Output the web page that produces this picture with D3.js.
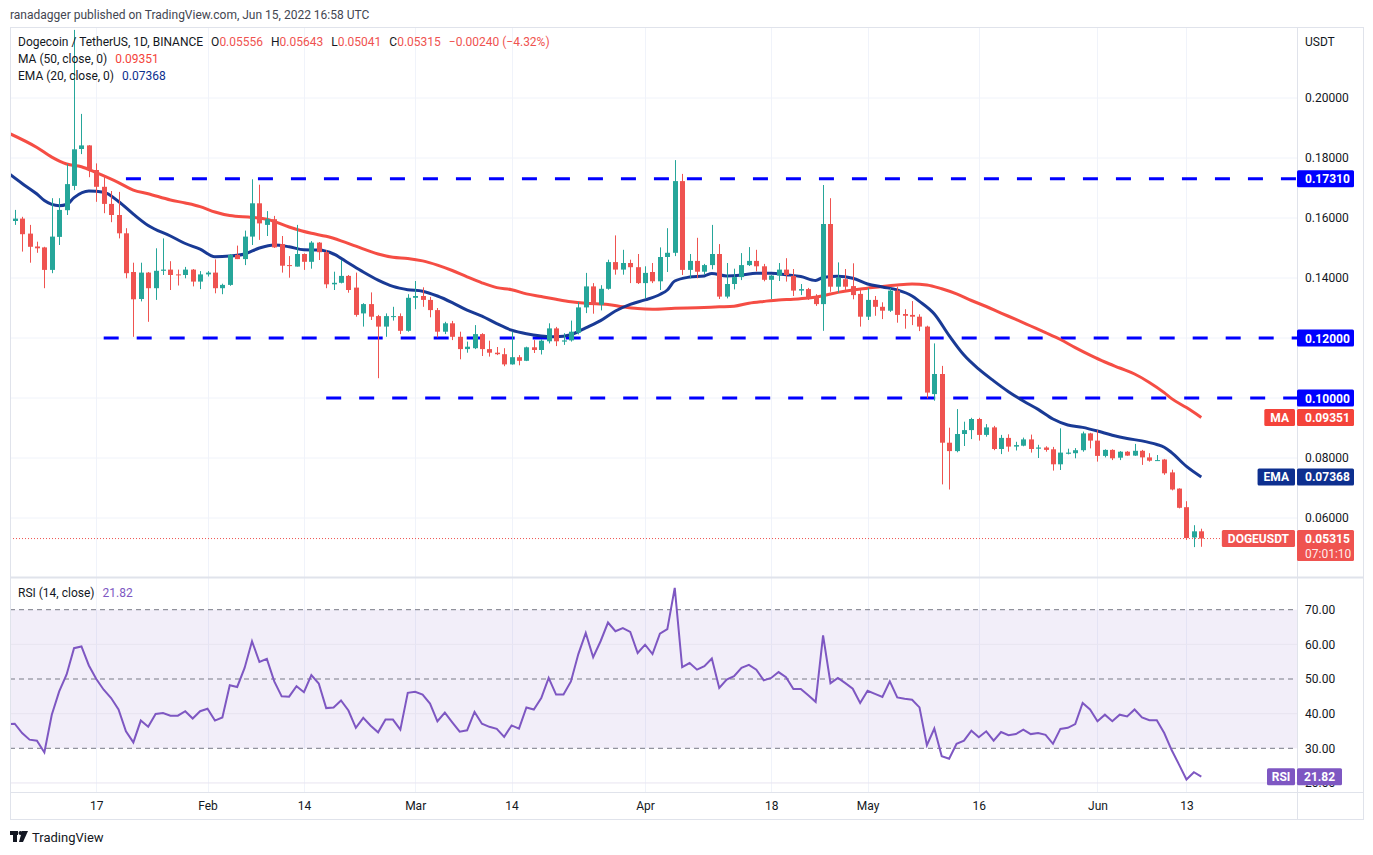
<!DOCTYPE html>
<html>
<head>
<meta charset="utf-8">
<script src="https://cdn.jsdelivr.net/npm/d3@7"></script>
<style>
  body { margin: 0; background: #fff; }
  text { font-family: Roboto, "Liberation Sans", sans-serif; }
</style>
</head>
<body>
<svg id="chart" width="1373" height="855"></svg>
<script>
// ---- data (daily DOGE/USDT candles, Jan 6 .. Jun 15 2022) ----
const firstDay = "2022-01-06";

const open = [
  0.1590, 0.1598, 0.1548, 0.1505, 0.1502, 0.1427, 0.1537, 0.1626, 0.1707, 0.1830,
  0.1842, 0.1760, 0.1704, 0.1647, 0.1610, 0.1549, 0.1420, 0.1330, 0.1418, 0.1366,
  0.1424, 0.1428, 0.1412, 0.1410, 0.1428, 0.1388, 0.1412, 0.1418, 0.1366, 0.1377,
  0.1477, 0.1463, 0.1538, 0.1649, 0.1577, 0.1596, 0.1513, 0.1443, 0.1438, 0.1480,
  0.1454, 0.1518, 0.1486, 0.1379, 0.1384, 0.1407, 0.1368, 0.1282, 0.1313, 0.1273,
  0.1238, 0.1270, 0.1273, 0.1224, 0.1334, 0.1340, 0.1327, 0.1293, 0.1221, 0.1249,
  0.1204, 0.1163, 0.1166, 0.1213, 0.1163, 0.1151, 0.1146, 0.1112, 0.1136, 0.1124,
  0.1169, 0.1160, 0.1189, 0.1232, 0.1188, 0.1192, 0.1218, 0.1302, 0.1372, 0.1311,
  0.1364, 0.1453, 0.1428, 0.1450, 0.1436, 0.1383, 0.1420, 0.1389, 0.1470, 0.1484,
  0.1723, 0.1427, 0.1457, 0.1421, 0.1443, 0.1480, 0.1338, 0.1380, 0.1403, 0.1443,
  0.1457, 0.1439, 0.1394, 0.1408, 0.1428, 0.1407, 0.1358, 0.1363, 0.1337, 0.1313,
  0.1580, 0.1371, 0.1396, 0.1373, 0.1347, 0.1271, 0.1327, 0.1304, 0.1291, 0.1358,
  0.1280, 0.1277, 0.1271, 0.1238, 0.1013, 0.1080, 0.0851, 0.0823, 0.0880, 0.0893,
  0.0930, 0.0877, 0.0902, 0.0830, 0.0867, 0.0838, 0.0841, 0.0862, 0.0831, 0.0835,
  0.0829, 0.0779, 0.0814, 0.0816, 0.0826, 0.0882, 0.0858, 0.0807, 0.0827, 0.0801,
  0.0821, 0.0808, 0.0824, 0.0802, 0.0791, 0.0795, 0.0752, 0.0698, 0.0636, 0.0535,
  0.05556
];
const high = [
  0.1627, 0.1604, 0.1577, 0.1521, 0.1504, 0.1666, 0.1666, 0.1780, 0.2227, 0.1947,
  0.1843, 0.1782, 0.1743, 0.1690, 0.1687, 0.1566, 0.1451, 0.1451, 0.1420, 0.1499,
  0.1532, 0.1456, 0.1428, 0.1437, 0.1430, 0.1423, 0.1423, 0.1462, 0.1381, 0.1480,
  0.1508, 0.1558, 0.1729, 0.1711, 0.1623, 0.1607, 0.1540, 0.1473, 0.1577, 0.1482,
  0.1523, 0.1520, 0.1493, 0.1421, 0.1460, 0.1410, 0.1418, 0.1316, 0.1352, 0.1277,
  0.1282, 0.1304, 0.1282, 0.1346, 0.1390, 0.1369, 0.1337, 0.1300, 0.1254, 0.1257,
  0.1221, 0.1188, 0.1243, 0.1216, 0.1191, 0.1170, 0.1166, 0.1221, 0.1143, 0.1171,
  0.1193, 0.1196, 0.1249, 0.1237, 0.1216, 0.1258, 0.1320, 0.1417, 0.1383, 0.1376,
  0.1461, 0.1542, 0.1494, 0.1461, 0.1480, 0.1439, 0.1450, 0.1502, 0.1566, 0.1793,
  0.1747, 0.1480, 0.1534, 0.1447, 0.1577, 0.1513, 0.1450, 0.1431, 0.1483, 0.1503,
  0.1494, 0.1447, 0.1410, 0.1450, 0.1466, 0.1430, 0.1380, 0.1367, 0.1346, 0.1710,
  0.1666, 0.1452, 0.1430, 0.1449, 0.1362, 0.1366, 0.1340, 0.1319, 0.1366, 0.1371,
  0.1296, 0.1323, 0.1279, 0.1241, 0.1182, 0.1107, 0.0901, 0.0963, 0.0921, 0.0934,
  0.0934, 0.0913, 0.0907, 0.0877, 0.0879, 0.0854, 0.0868, 0.0878, 0.0844, 0.0839,
  0.0837, 0.0899, 0.0831, 0.0833, 0.0888, 0.0884, 0.0893, 0.0829, 0.0829, 0.0823,
  0.0823, 0.0847, 0.0827, 0.0816, 0.0810, 0.0797, 0.0761, 0.0699, 0.0656, 0.0576,
  0.05643
];
const low = [
  0.1577, 0.1488, 0.1451, 0.1484, 0.1366, 0.1416, 0.1510, 0.1610, 0.1693, 0.1813,
  0.1736, 0.1654, 0.1616, 0.1586, 0.1532, 0.1399, 0.1204, 0.1322, 0.1254, 0.1327,
  0.1410, 0.1360, 0.1375, 0.1399, 0.1372, 0.1363, 0.1405, 0.1349, 0.1346, 0.1374,
  0.1463, 0.1443, 0.1510, 0.1527, 0.1540, 0.1500, 0.1418, 0.1401, 0.1438, 0.1427,
  0.1431, 0.1460, 0.1366, 0.1360, 0.1382, 0.1351, 0.1271, 0.1238, 0.1260, 0.1066,
  0.1204, 0.1258, 0.1213, 0.1221, 0.1296, 0.1304, 0.1269, 0.1202, 0.1213, 0.1193,
  0.1129, 0.1151, 0.1163, 0.1140, 0.1138, 0.1143, 0.1106, 0.1111, 0.1109, 0.1123,
  0.1150, 0.1145, 0.1182, 0.1173, 0.1177, 0.1188, 0.1212, 0.1283, 0.1281, 0.1292,
  0.1361, 0.1411, 0.1411, 0.1383, 0.1380, 0.1332, 0.1383, 0.1360, 0.1420, 0.1473,
  0.1410, 0.1399, 0.1399, 0.1411, 0.1429, 0.1330, 0.1332, 0.1362, 0.1393, 0.1440,
  0.1422, 0.1389, 0.1330, 0.1390, 0.1388, 0.1340, 0.1343, 0.1327, 0.1307, 0.1224,
  0.1354, 0.1351, 0.1356, 0.1329, 0.1238, 0.1260, 0.1274, 0.1263, 0.1287, 0.1251,
  0.1231, 0.1243, 0.1223, 0.0999, 0.0991, 0.0712, 0.0695, 0.0819, 0.0840, 0.0863,
  0.0858, 0.0871, 0.0826, 0.0813, 0.0821, 0.0825, 0.0839, 0.0818, 0.0800, 0.0821,
  0.0758, 0.0760, 0.0812, 0.0799, 0.0821, 0.0832, 0.0788, 0.0802, 0.0793, 0.0793,
  0.0807, 0.0807, 0.0777, 0.0788, 0.0790, 0.0744, 0.0692, 0.0632, 0.0527, 0.0503,
  0.05041
];
const close = [
  0.1598, 0.1546, 0.1504, 0.1499, 0.1427, 0.1538, 0.1627, 0.1713, 0.1829, 0.1842,
  0.1760, 0.1704, 0.1647, 0.1610, 0.1549, 0.1416, 0.1329, 0.1418, 0.1366, 0.1424,
  0.1428, 0.1410, 0.1410, 0.1428, 0.1388, 0.1412, 0.1418, 0.1366, 0.1377, 0.1477,
  0.1463, 0.1538, 0.1649, 0.1582, 0.1596, 0.1502, 0.1441, 0.1441, 0.1480, 0.1454,
  0.1518, 0.1486, 0.1379, 0.1384, 0.1407, 0.1360, 0.1277, 0.1313, 0.1271, 0.1238,
  0.1273, 0.1273, 0.1224, 0.1334, 0.1340, 0.1327, 0.1293, 0.1221, 0.1249, 0.1204,
  0.1163, 0.1171, 0.1213, 0.1163, 0.1151, 0.1146, 0.1112, 0.1136, 0.1124, 0.1169,
  0.1160, 0.1191, 0.1232, 0.1189, 0.1192, 0.1221, 0.1302, 0.1372, 0.1311, 0.1364,
  0.1453, 0.1428, 0.1450, 0.1436, 0.1383, 0.1417, 0.1389, 0.1470, 0.1484, 0.1723,
  0.1427, 0.1457, 0.1421, 0.1443, 0.1480, 0.1338, 0.1380, 0.1403, 0.1443, 0.1457,
  0.1439, 0.1394, 0.1408, 0.1428, 0.1410, 0.1358, 0.1363, 0.1332, 0.1313, 0.1580,
  0.1371, 0.1401, 0.1371, 0.1343, 0.1271, 0.1327, 0.1304, 0.1291, 0.1358, 0.1277,
  0.1274, 0.1271, 0.1238, 0.1018, 0.1080, 0.0851, 0.0823, 0.0880, 0.0893, 0.0930,
  0.0877, 0.0902, 0.0830, 0.0867, 0.0838, 0.0843, 0.0862, 0.0830, 0.0835, 0.0827,
  0.0779, 0.0818, 0.0818, 0.0826, 0.0882, 0.0858, 0.0807, 0.0827, 0.0799, 0.0821,
  0.0808, 0.0824, 0.0802, 0.0791, 0.0793, 0.0749, 0.0695, 0.0634, 0.0533, 0.05556,
  0.05315
];

// moving averages: [day number from firstDay, value]
const ma50 = [
  [-1,0.1885],[3,0.1835],[5,0.1803],[7,0.1780],[9,0.1771],[11,0.1751],[14,0.1718],[16,0.1693],
  [18,0.1681],[21,0.1660],[23,0.1650],[25,0.1638],[27,0.1620],[29,0.1608],[32,0.1602],[34,0.1596],
  [37,0.1570],[40,0.1549],[42,0.1539],[44,0.1524],[46,0.1506],[49,0.1480],[51,0.1469],[53,0.1465],
  [55,0.1457],[57,0.1443],[59,0.1425],[61,0.1404],[63,0.1384],[65,0.1368],[67,0.1361],[69,0.1347],
  [71,0.1338],[73,0.1329],[75,0.1321],[77,0.1316],[80,0.1312],[82,0.1304],[84,0.1298],[86,0.1296],
  [89,0.1299],[92,0.1301],[95,0.1304],[97,0.1306],[99,0.1316],[101,0.1322],[103,0.1327],[105,0.1329],
  [107,0.1333],[109,0.1341],[111,0.1352],[113,0.1360],[115,0.1366],[117,0.1372],[119,0.1377],[121,0.1380],
  [123,0.1377],[125,0.1364],[127,0.1347],[129,0.1325],[131,0.1305],[133,0.1283],[135,0.1262],[137,0.1240],
  [139,0.1218],[141,0.1195],[143,0.1168],[145,0.1143],[147,0.1120],[149,0.1100],[151,0.1080],[153,0.1052],
  [155,0.1018],[156,0.0998],[158,0.0968],[160,0.09351]
];
const ema20 = [
  [-1,0.1752],[1,0.1715],[3,0.1680],[4,0.1658],[6,0.1641],[7,0.1645],[8,0.1668],[10,0.1690],
  [12,0.1686],[14,0.1655],[16,0.1613],[18,0.1575],[21,0.1540],[23,0.1515],[25,0.1496],[27,0.1471],
  [29,0.1473],[31,0.1480],[33,0.1500],[35,0.1510],[37,0.1504],[39,0.1494],[41,0.1493],[43,0.1480],
  [45,0.1450],[47,0.1420],[49,0.1393],[51,0.1372],[53,0.1361],[55,0.1356],[57,0.1340],[59,0.1318],
  [61,0.1293],[63,0.1273],[65,0.1248],[67,0.1226],[69,0.1214],[71,0.1207],[73,0.1204],[75,0.1211],
  [77,0.1234],[79,0.1258],[81,0.1290],[83,0.1312],[85,0.1327],[87,0.1345],[88,0.1360],[89,0.1390],
  [91,0.1403],[93,0.1407],[94,0.1415],[96,0.1407],[98,0.1410],[100,0.1416],[102,0.1416],[104,0.1411],
  [106,0.1405],[108,0.1392],[109,0.1402],[111,0.1406],[113,0.1399],[115,0.1380],[117,0.1370],[119,0.1360],
  [121,0.1340],[122,0.1322],[124,0.1280],[126,0.1208],[128,0.1143],[130,0.1096],[132,0.1057],[134,0.1021],
  [136,0.0990],[138,0.0962],[140,0.0930],[142,0.0910],[144,0.0902],[146,0.0890],[148,0.0876],[150,0.0865],
  [152,0.0857],[154,0.0845],[155,0.0836],[156,0.0818],[158,0.0772],[160,0.07368]
];

// RSI(14), one value per day starting the day before firstDay
const rsi = [
  37.0,
  37.1, 34.4, 32.5, 32.2, 28.8, 39.7, 46.4, 51.3, 58.9, 59.4,
  53.9, 50.0, 46.9, 44.5, 41.2, 34.9, 31.7, 38.0, 36.2, 39.9,
  40.2, 39.4, 39.4, 40.7, 38.6, 40.7, 41.4, 38.0, 38.9, 48.2,
  47.7, 53.2, 60.9, 54.9, 55.8, 49.3, 45.0, 44.9, 47.9, 46.2,
  51.1, 48.7, 41.6, 41.8, 43.8, 40.9, 35.9, 38.8, 36.5, 34.6,
  38.3, 38.3, 35.4, 46.0, 46.3, 45.5, 42.9, 37.8, 40.3, 37.5,
  34.8, 35.2, 40.5, 37.1, 36.2, 35.6, 33.3, 36.6, 35.7, 41.8,
  41.2, 44.5, 50.3, 45.5, 45.5, 49.3, 57.2, 63.3, 56.3, 60.9,
  66.3, 63.8, 64.7, 63.6, 57.5, 59.9, 57.2, 63.1, 64.4, 76.3,
  53.4, 54.6, 52.7, 53.7, 55.9, 47.4, 49.8, 50.8, 53.2, 54.1,
  52.7, 49.6, 50.3, 52.0, 50.5, 47.1, 47.1, 45.3, 43.4, 62.6,
  48.8, 50.3, 48.8, 47.2, 43.1, 46.6, 45.7, 44.8, 49.3, 44.7,
  44.3, 44.0, 41.8, 30.9, 35.7, 27.7, 27.0, 31.3, 32.2, 35.1,
  33.2, 34.9, 32.2, 34.7, 33.8, 34.1, 35.4, 34.1, 34.4, 33.9,
  31.3, 35.6, 35.9, 37.0, 43.1, 41.2, 37.8, 39.7, 37.8, 39.7,
  39.2, 41.2, 38.9, 38.1, 38.1, 34.4, 29.5, 25.3, 21.0, 23.1,
  21.82
];

const levels = [0.1731, 0.12, 0.10];
const levelStart = ["2022-01-21", "2022-01-18", "2022-02-17"];
const priceTicks = [0.06, 0.08, 0.10, 0.12, 0.14, 0.16, 0.18, 0.20];
const rsiTicks = [20, 30, 40, 50, 60, 70];
const timeTicks = ["2022-01-17", "2022-02-01", "2022-02-14", "2022-03-01", "2022-03-14",
  "2022-04-01", "2022-04-18", "2022-05-01", "2022-05-16", "2022-06-01", "2022-06-13"];
const timeLabels = ["17", "Feb", "14", "Mar", "14", "Apr", "18", "May", "16", "Jun", "13"];

// ---- layout ----
const left = 10, plotRight = 1297, frameRight = 1363;
const mainTop = 27, mainBottom = 577, rsiTop = 578, rsiBottom = 792, frameBottom = 819;

const green = "#26a69a", red = "#ef5350", maColor = "#f4433a", emaColor = "#0d2f8f";
const levelColor = "#0000ff", rsiColor = "#7e57c2", gridColor = "#f0f3fa", textColor = "#131722";

const parse = d3.utcParse("%Y-%m-%d");
const day0 = parse(firstDay);
const dayAt = i => d3.utcDay.offset(day0, i);

const x = d3.scaleUtc().domain([dayAt(0), dayAt(160)]).range([14.7, 1201.3]);
const y = d3.scaleLinear().domain([0.06, 0.20]).range([518, 98]);
const yr = d3.scaleLinear().domain([30, 70]).range([748.3, 609.7]);

const svg = d3.select("#chart");
svg.append("rect").attr("width", 1373).attr("height", 855).attr("fill", "#fff");

const defs = svg.append("defs");
defs.append("clipPath").attr("id", "clipMain").append("rect")
  .attr("x", left).attr("y", mainTop).attr("width", plotRight - left).attr("height", mainBottom - mainTop);
defs.append("clipPath").attr("id", "clipRsi").append("rect")
  .attr("x", left).attr("y", rsiTop).attr("width", plotRight - left).attr("height", rsiBottom - rsiTop);

// grid
const grid = svg.append("g");
grid.selectAll(".hg").data(priceTicks).join("line")
  .attr("x1", left).attr("x2", plotRight)
  .attr("y1", d => y(d)).attr("y2", d => y(d))
  .attr("stroke", gridColor).attr("stroke-width", 1);
grid.selectAll(".vg").data(timeTicks).join("line")
  .attr("x1", d => Math.round(x(parse(d))) + 0.5).attr("x2", d => Math.round(x(parse(d))) + 0.5)
  .attr("y1", mainTop).attr("y2", rsiBottom)
  .attr("stroke", gridColor).attr("stroke-width", 1);

// ---- main panel ----
const main = svg.append("g").attr("clip-path", "url(#clipMain)");

// support / resistance levels
main.selectAll(".lvl").data(levels).join("line")
  .attr("x1", (d, i) => x(parse(levelStart[i]))).attr("x2", plotRight)
  .attr("y1", d => y(d)).attr("y2", d => y(d))
  .attr("stroke", levelColor).attr("stroke-width", 3)
  .attr("stroke-dasharray", "15,18");

// last price dotted line
main.append("line")
  .attr("x1", left).attr("x2", plotRight)
  .attr("y1", y(close[160])).attr("y2", y(close[160]))
  .attr("stroke", red).attr("stroke-width", 1).attr("stroke-dasharray", "1,2");

const avgLine = d3.line()
  .x(d => x(dayAt(d[0])))
  .y(d => y(d[1]))
  .curve(d3.curveMonotoneX);

main.append("path").datum(ma50).attr("d", avgLine)
  .attr("fill", "none").attr("stroke", maColor).attr("stroke-width", 3).attr("stroke-opacity", 0.95);
main.append("path").datum(ema20).attr("d", avgLine)
  .attr("fill", "none").attr("stroke", emaColor).attr("stroke-width", 3).attr("stroke-opacity", 0.95);

const candles = open.map((o, i) => ({ date: dayAt(i), o: o, h: high[i], l: low[i], c: close[i] }));
const bodyW = 5;
const cg = main.selectAll(".candle").data(candles).join("g")
  .attr("fill", d => d.c >= d.o ? green : red)
  .attr("stroke", d => d.c >= d.o ? green : red);
cg.append("line")
  .attr("x1", d => Math.round(x(d.date)) + 0.5).attr("x2", d => Math.round(x(d.date)) + 0.5)
  .attr("y1", d => y(d.h)).attr("y2", d => y(d.l))
  .attr("stroke-width", 1);
cg.append("rect")
  .attr("x", d => Math.round(x(d.date)) - 2)
  .attr("width", bodyW)
  .attr("y", d => y(Math.max(d.o, d.c)))
  .attr("height", d => Math.max(1, Math.abs(y(d.o) - y(d.c))))
  .attr("stroke", "none");

// ---- RSI panel ----
const rp = svg.append("g").attr("clip-path", "url(#clipRsi)");
rp.append("rect")
  .attr("x", left).attr("width", plotRight - left)
  .attr("y", yr(70)).attr("height", yr(30) - yr(70))
  .attr("fill", rsiColor).attr("fill-opacity", 0.1);
rp.selectAll(".rg").data([20, 40, 60]).join("line")
  .attr("x1", left).attr("x2", plotRight)
  .attr("y1", d => yr(d)).attr("y2", d => yr(d))
  .attr("stroke", "#e8e4f0").attr("stroke-width", 1);
rp.selectAll(".rd").data([70, 50, 30]).join("line")
  .attr("x1", left).attr("x2", plotRight)
  .attr("y1", d => yr(d)).attr("y2", d => yr(d))
  .attr("stroke", "#787b86").attr("stroke-width", 1).attr("stroke-dasharray", "5,4");
rp.append("path").datum(rsi)
  .attr("d", d3.line().x((d, i) => x(dayAt(i - 1))).y(d => yr(d)))
  .attr("fill", "none").attr("stroke", rsiColor).attr("stroke-width", 2);

// ---- frame ----
const frame = svg.append("g").attr("fill", "none").attr("stroke", "#e0e3eb");
frame.append("rect").attr("x", left + 0.5).attr("y", mainTop + 0.5)
  .attr("width", frameRight - left).attr("height", frameBottom - mainTop);
frame.append("line").attr("x1", left).attr("x2", frameRight).attr("y1", mainBottom + 0.5).attr("y2", mainBottom + 0.5)
  .attr("stroke-width", 2);
frame.append("line").attr("x1", left).attr("x2", frameRight).attr("y1", rsiBottom + 0.5).attr("y2", rsiBottom + 0.5);
frame.append("line").attr("x1", plotRight + 0.5).attr("x2", plotRight + 0.5).attr("y1", mainTop).attr("y2", frameBottom);

// ---- axes ----
function styleAxis(g) {
  g.select(".domain").remove();
  g.selectAll("text").attr("fill", textColor).style("font-size", "12px")
    .style("font-family", "Roboto, 'Liberation Sans', sans-serif");
}
svg.append("g").attr("transform", `translate(${plotRight},0)`)
  .call(d3.axisRight(y).tickValues(priceTicks).tickFormat(d3.format(".5f")).tickSize(0).tickPadding(8))
  .call(styleAxis);
svg.append("g").attr("transform", `translate(${plotRight},0)`)
  .call(d3.axisRight(yr).tickValues(rsiTicks).tickFormat(d3.format(".2f")).tickSize(0).tickPadding(8))
  .call(styleAxis);
svg.append("g").attr("transform", `translate(0,${rsiBottom})`)
  .call(d3.axisBottom(x).tickValues(timeTicks.map(parse)).tickFormat((d, i) => timeLabels[i]).tickSize(0).tickPadding(9))
  .call(styleAxis);

svg.append("text").attr("x", 1305).attr("y", 46).attr("fill", textColor)
  .style("font-size", "12px").text("USDT");

// ---- price tags on the right scale ----
function tag(yPos, value, bg, name, h) {
  const g = svg.append("g");
  h = h || 17;
  g.append("rect").attr("x", plotRight).attr("y", yPos - 8.5).attr("width", 57).attr("height", h)
    .attr("rx", 1.5).attr("fill", bg);
  g.append("text").attr("x", plotRight + 8).attr("y", yPos + 4.5).attr("fill", "#fff")
    .style("font-size", "12px").style("font-weight", "bold").text(value);
  if (name) {
    const t = g.append("text").attr("x", plotRight - 8).attr("y", yPos + 4.5).attr("fill", "#fff")
      .attr("text-anchor", "end").style("font-size", "12px").style("font-weight", "bold").text(name);
    const w = t.node().getComputedTextLength() + 12;
    g.insert("rect", "text:last-child").attr("x", plotRight - 2 - w).attr("y", yPos - 8.5)
      .attr("width", w).attr("height", 17).attr("rx", 1.5).attr("fill", bg);
  }
  return g;
}
levels.forEach(v => tag(y(v), d3.format(".5f")(v), levelColor));
tag(y(ma50[ma50.length - 1][1]), "0.09351", maColor, "MA");
tag(y(ema20[ema20.length - 1][1]), "0.07368", emaColor, "EMA");
const lastTag = tag(y(close[160]), "0.05315", red, "DOGEUSDT", 31);
lastTag.append("text").attr("x", plotRight + 8).attr("y", y(close[160]) + 19).attr("fill", "#fff")
  .style("font-size", "12px").style("fill-opacity", 0.9).text("07:01:10");

// RSI tag
const rsiTag = svg.append("g");
rsiTag.append("rect").attr("x", plotRight).attr("y", yr(21.82) - 8.5).attr("width", 45).attr("height", 17)
  .attr("rx", 1.5).attr("fill", rsiColor);
rsiTag.append("text").attr("x", plotRight + 7).attr("y", yr(21.82) + 4.5).attr("fill", "#fff")
  .style("font-size", "12px").style("font-weight", "bold").text("21.82");
rsiTag.append("rect").attr("x", plotRight - 30).attr("y", yr(21.82) - 8.5).attr("width", 28).attr("height", 17)
  .attr("rx", 1.5).attr("fill", rsiColor);
rsiTag.append("text").attr("x", plotRight - 16).attr("y", yr(21.82) + 4.5).attr("fill", "#fff")
  .attr("text-anchor", "middle").style("font-size", "12px").style("font-weight", "bold").text("RSI");

// ---- legends ----
svg.append("text").attr("x", 10).attr("y", 19).attr("fill", "#434651")
  .style("font-size", "12px").text("ranadagger published on TradingView.com, Jun 15, 2022 16:58 UTC");

function legend(yPos, parts) {
  const t = svg.append("text").attr("x", 18).attr("y", yPos).style("font-size", "12px");
  parts.forEach(p => t.append("tspan").attr("dx", p[2] || 0).attr("fill", p[1]).text(p[0]));
}
const fmt = d3.format(".5f");
legend(46, [
  ["Dogecoin / TetherUS, 1D, BINANCE", textColor],
  ["O", textColor, 8], [fmt(open[160]), red],
  ["H", textColor, 8], [fmt(high[160]), red],
  ["L", textColor, 8], [fmt(low[160]), red],
  ["C", textColor, 8], [fmt(close[160]), red],
  ["\u22120.00240 (\u22124.32%)", red, 8]
]);
legend(63, [["MA (50, close, 0)", textColor], ["0.09351", maColor, 8]]);
legend(80, [["EMA (20, close, 0)", textColor], ["0.07368", emaColor, 8]]);
legend(597, [["RSI (14, close)", textColor], ["21.82", rsiColor, 8]]);

// ---- footer logo ----
const logo = svg.append("g").attr("fill", textColor);
logo.append("rect").attr("x", 10).attr("y", 831).attr("width", 8).attr("height", 4);
logo.append("rect").attr("x", 13).attr("y", 831).attr("width", 4).attr("height", 11);
logo.append("circle").attr("cx", 20.5).attr("cy", 833).attr("r", 2);
logo.append("path").attr("d", "M22,831 L28,831 L23,842 L19,842 Z");
svg.append("text").attr("x", 32).attr("y", 842).attr("fill", textColor)
  .style("font-size", "13px").text("TradingView");
</script>
</body>
</html>
